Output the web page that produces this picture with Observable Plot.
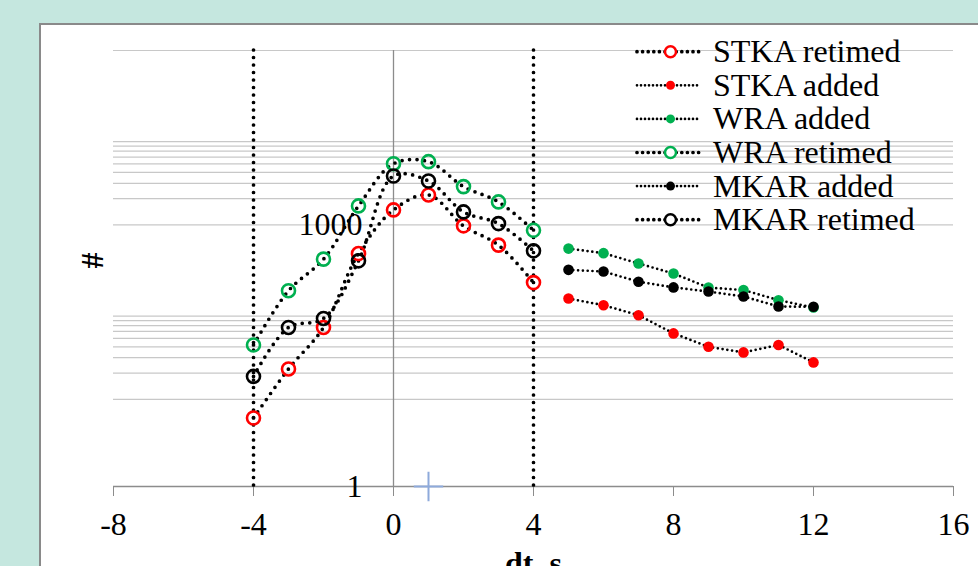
<!DOCTYPE html>
<html>
<head>
<meta charset="utf-8">
<script src="https://cdn.jsdelivr.net/npm/d3@7"></script>
<script src="https://cdn.jsdelivr.net/npm/@observablehq/plot@0.6"></script>
<style>
  html, body { margin: 0; padding: 0; }
  body { width: 978px; height: 566px; overflow: hidden; background: rgb(197,231,223); position: relative; font-family: "Liberation Serif", serif; }
  #panel { position: absolute; left: 39px; top: 23px; width: 1000px; height: 600px; background: white; border: 2px solid #8a8a8a; box-sizing: border-box; }
  #chart { position: absolute; left: 0; top: 0; }
  #legend { position: absolute; left: 0; top: 0; pointer-events: none; }
</style>
</head>
<body>
<div id="panel"></div>
<div id="chart"></div>
<svg id="legend" width="978" height="566"></svg>
<script>
// ---- data ----
const xRetimed = [-4, -3, -2, -1, 0, 1, 2, 3, 4];
const stkaRetimed = [6.1, 22.3, 66.7, 469, 1486, 2206, 975, 586, 218];
const wraRetimed = [42, 176, 405, 1651, 5035, 5310, 2748, 1835, 869];
const mkarRetimed = [18.3, 66.7, 84.6, 387, 3640, 3190, 1409, 1035, 504];

const xAdded = [5, 6, 7, 8, 9, 10, 11, 12];
const stkaAdded = [143, 120, 92, 57, 40, 34.5, 42, 26.5];
const wraAdded = [535, 474, 361, 277, 191, 179, 137, 113];
const mkarAdded = [305, 292, 223, 192, 172, 151, 116, 115];

const extraX = [1];
const extraY = [1];

const windowLines = [-4, 4];
const xTicks = [-8, -4, 0, 4, 8, 12, 16];
const yLabels = [1, 1000];
const yGrid = [10, 20, 30, 40, 50, 60, 70, 80, 90, 1000, 2000, 3000, 4000, 5000, 6000, 7000, 8000, 9000, 100000];

const seriesNames = ["STKA retimed", "STKA added", "WRA added", "WRA retimed", "MKAR added", "MKAR retimed"];
const seriesColors = {"STKA": "#ff0000", "WRA": "#00b050", "MKAR": "#000000"};

// build tables
const toRows = (xs, ys, name) => xs.map((x, i) => ({x, y: ys[i], name}));
const retimed = [
  ...toRows(xRetimed, stkaRetimed, "STKA"),
  ...toRows(xRetimed, wraRetimed, "WRA"),
  ...toRows(xRetimed, mkarRetimed, "MKAR")
];
const added = [
  ...toRows(xAdded, stkaAdded, "STKA"),
  ...toRows(xAdded, wraAdded, "WRA"),
  ...toRows(xAdded, mkarAdded, "MKAR")
];
const extra = extraX.map((x, i) => ({x, y: extraY[i]}));

const FONT = "Liberation Serif";
const retimedDots = {stroke: "black", strokeWidth: 3.7, strokeDasharray: "0 7.5", strokeLinecap: "round"};
const addedDots = {stroke: "black", strokeWidth: 2.7, strokeDasharray: "0 4.8", strokeLinecap: "round"};

const chart = Plot.plot({
  width: 978,
  height: 566,
  marginLeft: 113,
  marginRight: 25,
  marginTop: 50,
  marginBottom: 80,
  style: {background: "transparent", fontFamily: FONT, color: "black"},
  x: {domain: [-8, 16], axis: null},
  y: {type: "log", domain: [1, 100000], axis: null},
  marks: [
    Plot.ruleY(yGrid, {stroke: "#c8c8c8", strokeWidth: 1.2}),
    Plot.ruleY([1], {stroke: "#8c8c8c", strokeWidth: 1.3}),
    Plot.ruleX([0], {stroke: "#8c8c8c", strokeWidth: 1.3}),
    Plot.axisX(xTicks, {tickSize: 10, tickPadding: 16, fontSize: 32, fontFamily: FONT, stroke: "#8c8c8c", fill: "black", tickFormat: d => String(d), label: null}),
    Plot.text(yLabels, {x: 0, y: d => d, text: d => String(d), textAnchor: "end", dx: -31, fontSize: 32, fontFamily: FONT, fill: "black"}),
    Plot.text(["#"], {frameAnchor: "left", dx: -21, rotate: -90, fontSize: 32, fontWeight: "bold", fontFamily: FONT, fill: "black"}),
    Plot.text(["dt, s"], {frameAnchor: "bottom", lineAnchor: "top", dy: 65, fontSize: 32, fontWeight: "bold", fontFamily: FONT, fill: "black"}),
    Plot.ruleX(windowLines, retimedDots),
    Plot.line(retimed, {x: "x", y: "y", z: "name", curve: "catmull-rom", ...retimedDots}),
    Plot.line(added, {x: "x", y: "y", z: "name", ...addedDots}),
    Plot.dot(extra, {x: "x", y: "y", symbol: "plus", r: 9.5, stroke: "#8eaadb", strokeWidth: 2}),
    Plot.dot(toRows(xRetimed, stkaRetimed, "STKA"), {x: "x", y: "y", r: 6.5, stroke: seriesColors.STKA, strokeWidth: 2.6, fill: "none"}),
    Plot.dot(toRows(xAdded, stkaAdded, "STKA"), {x: "x", y: "y", r: 5.3, fill: seriesColors.STKA}),
    Plot.dot(toRows(xAdded, wraAdded, "WRA"), {x: "x", y: "y", r: 5.3, fill: seriesColors.WRA}),
    Plot.dot(toRows(xRetimed, wraRetimed, "WRA"), {x: "x", y: "y", r: 6.5, stroke: seriesColors.WRA, strokeWidth: 2.6, fill: "none"}),
    Plot.dot(toRows(xAdded, mkarAdded, "MKAR"), {x: "x", y: "y", r: 5.3, fill: seriesColors.MKAR}),
    Plot.dot(toRows(xRetimed, mkarRetimed, "MKAR"), {x: "x", y: "y", r: 6.5, stroke: seriesColors.MKAR, strokeWidth: 2.6, fill: "none"})
  ]
});
document.getElementById("chart").appendChild(chart);

// ---- legend ----
const lg = d3.select("#legend");
seriesNames.forEach((name, i) => {
  const cy = 51.7 + 33.6 * i;
  const key = name.split(" ")[0];
  const isRetimed = name.endsWith("retimed");
  const color = seriesColors[key];
  const dots = isRetimed ? retimedDots : addedDots;
  lg.append("line")
    .attr("x1", 637).attr("x2", 700).attr("y1", cy).attr("y2", cy)
    .attr("stroke", "black")
    .attr("stroke-width", dots.strokeWidth)
    .attr("stroke-dasharray", isRetimed ? "0 5.6" : "0 4")
    .attr("stroke-linecap", "round");
  if (isRetimed) {
    lg.append("circle").attr("cx", 670.5).attr("cy", cy).attr("r", 5.5)
      .attr("fill", "white").attr("stroke", color).attr("stroke-width", 2.5);
  } else {
    lg.append("circle").attr("cx", 670.5).attr("cy", cy).attr("r", 4.5).attr("fill", color);
  }
  lg.append("text").attr("x", 713).attr("y", cy + 10.5)
    .attr("font-family", FONT).attr("font-size", 32).attr("fill", "black")
    .text(name);
});
</script>
</body>
</html>
